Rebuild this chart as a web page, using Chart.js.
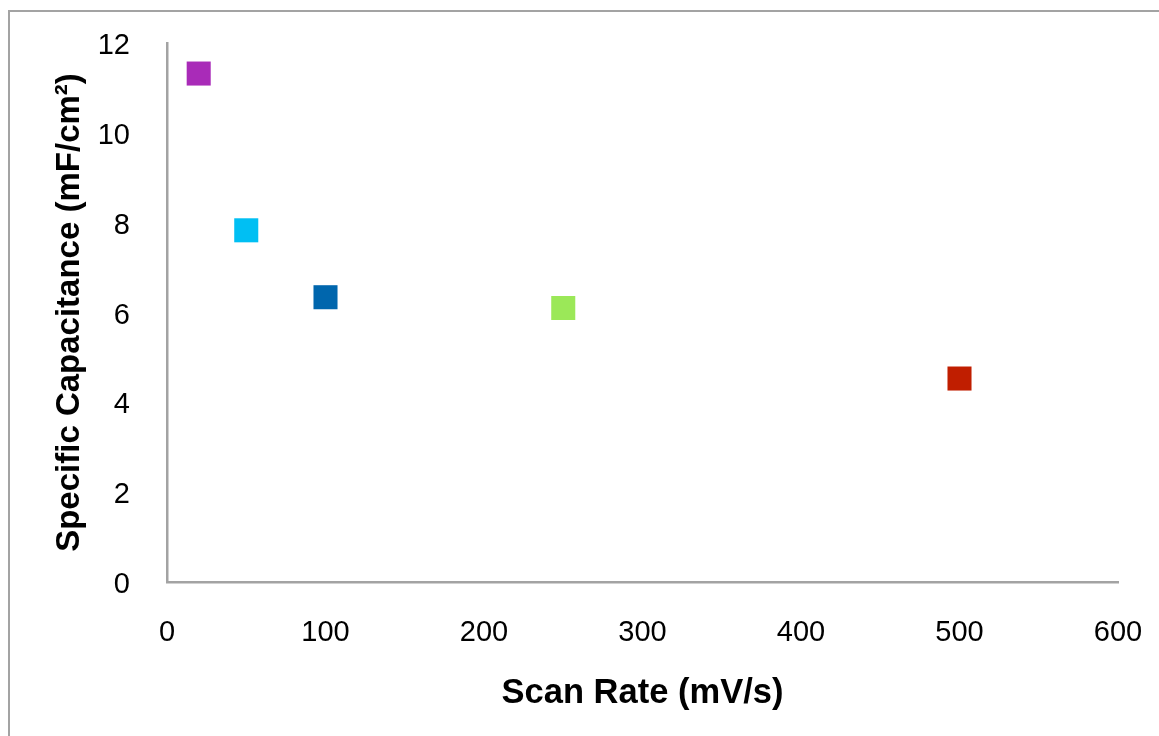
<!DOCTYPE html>
<html>
<head>
<meta charset="utf-8">
<script src="https://cdn.jsdelivr.net/npm/chart.js@4.4.0/dist/chart.umd.min.js"></script>
<style>
  html, body { margin: 0; padding: 0; background: #fff; overflow: hidden; }
  #wrap { position: relative; width: 1159px; height: 736px; }
  #frame {
    position: absolute; left: 8px; top: 10px; width: 1200px; height: 800px;
    border-left: 2.5px solid #a3a3a3; border-top: 2.5px solid #a3a3a3;
    pointer-events: none;
  }
</style>
</head>
<body>
<div id="wrap">
  <canvas id="capChart" width="1159" height="736"></canvas>
  <div id="frame"></div>
</div>
<script>
// scan rate (mV/s) vs specific capacitance (mF/cm2)
const scanRates = [20, 50, 100, 250, 500];
const capacitance = [11.32, 7.83, 6.34, 6.10, 4.53];
const pointColors = ['#a92bb8', '#00bff3', '#0066ad', '#9be858', '#c01e00'];

const xTicks = [0, 100, 200, 300, 400, 500, 600];
const yTicks = [0, 2, 4, 6, 8, 10, 12];

const fontFamily = '"Liberation Sans", Arial, sans-serif';
const axisGray = '#a3a3a3';

const ctx = document.getElementById('capChart').getContext('2d');
const capChart = new Chart(ctx, {
  type: 'scatter',
  data: {
    datasets: [{
      data: scanRates.map((x, i) => ({ x: x, y: capacitance[i] })),
      pointStyle: 'rect',
      pointRadius: 17,
      pointHoverRadius: 17,
      pointBorderWidth: 0,
      pointBackgroundColor: pointColors,
      pointBorderColor: pointColors
    }]
  },
  options: {
    responsive: false,
    animation: false,
    layout: { padding: { top: 43, right: 41, left: 0, bottom: 0 } },
    plugins: { legend: { display: false }, tooltip: { enabled: false } },
    scales: {
      x: {
        type: 'linear',
        min: xTicks[0],
        max: xTicks[xTicks.length - 1],
        afterBuildTicks: s => { s.ticks = xTicks.map(v => ({ value: v })); },
        // fixed axis box so the plot area lands where we want it
        afterFit: s => { s.height = 154; s.paddingLeft = 0; s.paddingRight = 0; },
        grid: { display: false },
        border: { display: true, color: axisGray, width: 2.5 },
        ticks: { color: '#000', padding: 26, font: { family: fontFamily, size: 29 } },
        title: {
          display: true,
          text: 'Scan Rate (mV/s)',
          color: '#000',
          padding: { top: 0, bottom: 22 },
          font: { family: fontFamily, size: 34.5, weight: 'bold' }
        }
      },
      y: {
        type: 'linear',
        min: yTicks[0],
        max: yTicks[yTicks.length - 1],
        afterBuildTicks: s => { s.ticks = yTicks.map(v => ({ value: v })); },
        afterFit: s => { s.width = 167; s.paddingTop = 0; s.paddingBottom = 0; },
        grid: { display: false },
        border: { display: true, color: axisGray, width: 2.5 },
        ticks: { color: '#000', padding: 29, labelOffset: 3, font: { family: fontFamily, size: 29 } },
        title: {
          display: true,
          text: 'Specific Capacitance (mF/cm²)',
          color: '#000',
          padding: { top: 50, bottom: 0 },
          font: { family: fontFamily, size: 33, weight: 'bold' }
        }
      }
    }
  }
});
</script>
</body>
</html>
